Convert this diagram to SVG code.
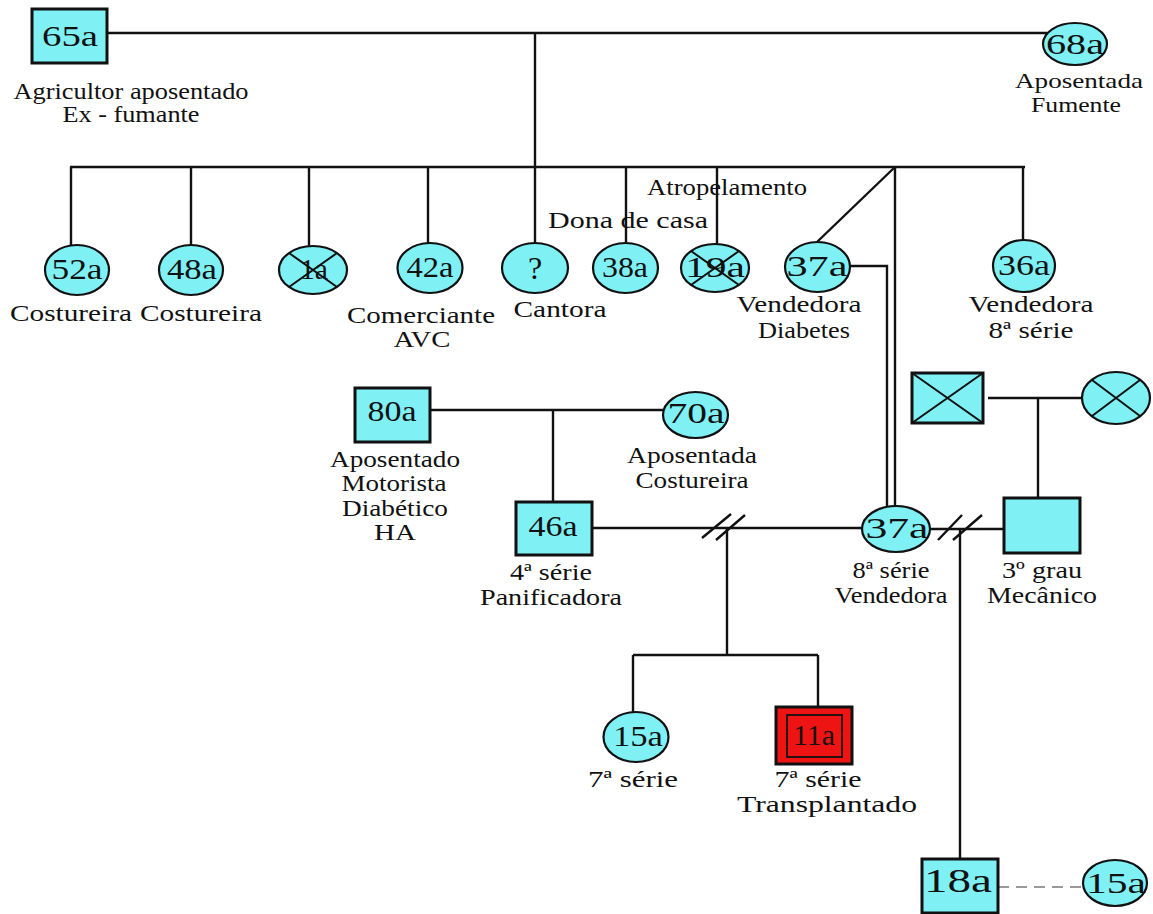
<svg xmlns="http://www.w3.org/2000/svg" width="1153" height="914" viewBox="0 0 1153 914">
<style>
.bg{fill:#ffffff}
.f{fill:#7ff0f4;stroke:#111;stroke-width:2.2}
.r{fill:#7ff0f4;stroke:#111;stroke-width:3}
.red{fill:#ee1414;stroke:#111;stroke-width:3}
.redin{fill:#ee1414;stroke:#111;stroke-width:1.8}
.x{stroke:#111;stroke-width:2;fill:none}
.c{stroke:#111;stroke-width:2.4;fill:none}
.d{stroke:#999;stroke-width:2;fill:none;stroke-dasharray:11 7}
text{font-family:"Liberation Serif", Tinos, "Times New Roman", serif;fill:#111;text-anchor:middle}
.n{font-size:30px}
.l{font-size:23px}
</style>
<rect class="bg" x="0" y="0" width="1153" height="914"/>
<g id="connectors">
<path class="c" d="M107,33 H1047"/>
<path class="c" d="M535,33 V167"/>
<path class="c" d="M70,167 H1025"/>
<path class="c" d="M71,167 V246 M191,167 V245 M309,167 V247 M428,167 V243 M535,167 V243 M626,167 V243 M717,167 V244 M1023,167 V240"/>
<path class="c" d="M895,167 L817,242"/>
<path class="c" d="M895,167 V507"/>
<path class="c" d="M850,266 H887 V507"/>
<path class="c" d="M430,410 H663"/>
<path class="c" d="M553,410 V502"/>
<path class="c" d="M592,528 H862"/>
<path class="c" d="M702,538 L731,514 M716,540 L745,515"/>
<path class="c" d="M727,528 V655"/>
<path class="c" d="M633,655 H818 M633,655 V712 M818,655 V707"/>
<path class="c" d="M988,398 H1082"/>
<path class="c" d="M1038,398 V498"/>
<path class="c" d="M930,529 H1004"/>
<path class="c" d="M938,540 L962,515 M953,540 L982,515"/>
<path class="c" d="M960,529 V859"/>
<path class="d" d="M998,887 H1083"/>
</g>
<g id="n65a"><rect class="r" x="32" y="9" width="75" height="54"/><text class="n" x="70" y="46" textLength="56" lengthAdjust="spacingAndGlyphs">65a</text>
<text class="l" x="131" y="99" textLength="235" lengthAdjust="spacingAndGlyphs">Agricultor aposentado</text>
<text class="l" x="131" y="122" textLength="137" lengthAdjust="spacingAndGlyphs">Ex - fumante</text></g>
<g id="n68a"><ellipse class="f" cx="1075" cy="44" rx="32" ry="21"/><text class="n" x="1075" y="54" textLength="58" lengthAdjust="spacingAndGlyphs">68a</text>
<text class="l" x="1079" y="88" style="font-size:22px" textLength="128" lengthAdjust="spacingAndGlyphs">Aposentada</text>
<text class="l" x="1076" y="112" style="font-size:22px" textLength="90" lengthAdjust="spacingAndGlyphs">Fumente</text></g>
<g id="n52a"><ellipse class="f" cx="77" cy="270" rx="32" ry="25"/><text class="n" x="77" y="279" textLength="51" lengthAdjust="spacingAndGlyphs">52a</text>
<text class="l" x="71" y="321" textLength="122" lengthAdjust="spacingAndGlyphs">Costureira</text></g>
<g id="n48a"><ellipse class="f" cx="191" cy="270" rx="32" ry="25"/><text class="n" x="192" y="279" textLength="50" lengthAdjust="spacingAndGlyphs">48a</text>
<text class="l" x="201" y="321" textLength="122" lengthAdjust="spacingAndGlyphs">Costureira</text></g>
<g id="n1a"><ellipse class="f" cx="313" cy="270" rx="34" ry="24"/><text class="n" x="314" y="279" textLength="28" lengthAdjust="spacingAndGlyphs">1a</text>
<path class="x" d="M289,253 L337,287 M289,287 L337,253"/></g>
<g id="n42a"><ellipse class="f" cx="430" cy="268" rx="32.5" ry="25"/><text class="n" x="430" y="277" textLength="47" lengthAdjust="spacingAndGlyphs">42a</text>
<text class="l" x="421" y="323" textLength="148" lengthAdjust="spacingAndGlyphs">Comerciante</text>
<text class="l" x="422" y="347" textLength="57" lengthAdjust="spacingAndGlyphs">AVC</text></g>
<g id="nq"><ellipse class="f" cx="535" cy="268" rx="33" ry="25"/><text class="n" x="535" y="279" style="font-size:32px">?</text>
<text class="l" x="560" y="317" textLength="93" lengthAdjust="spacingAndGlyphs">Cantora</text></g>
<g id="n38a"><ellipse class="f" cx="625.5" cy="268" rx="32.5" ry="25"/><text class="n" x="625" y="277" textLength="46" lengthAdjust="spacingAndGlyphs">38a</text>
<text class="l" x="628" y="228" textLength="160" lengthAdjust="spacingAndGlyphs">Dona de casa</text></g>
<g id="n19a"><ellipse class="f" cx="715" cy="268" rx="34" ry="24"/><text class="n" x="715" y="277" textLength="60" lengthAdjust="spacingAndGlyphs">19a</text>
<path class="x" d="M691,251 L739,285 M691,285 L739,251"/>
<text class="l" x="727" y="195" textLength="160" lengthAdjust="spacingAndGlyphs">Atropelamento</text></g>
<g id="n37a_top"><ellipse class="f" cx="817.5" cy="267" rx="32.5" ry="25"/><text class="n" x="817" y="276" textLength="61" lengthAdjust="spacingAndGlyphs">37a</text>
<text class="l" x="799" y="312" textLength="125" lengthAdjust="spacingAndGlyphs">Vendedora</text>
<text class="l" x="804" y="338" textLength="92" lengthAdjust="spacingAndGlyphs">Diabetes</text></g>
<g id="n36a"><ellipse class="f" cx="1024" cy="266" rx="31" ry="26"/><text class="n" x="1024" y="275" textLength="52" lengthAdjust="spacingAndGlyphs">36a</text>
<text class="l" x="1031" y="312" textLength="125" lengthAdjust="spacingAndGlyphs">Vendedora</text>
<text class="l" x="1031" y="338" textLength="85" lengthAdjust="spacingAndGlyphs">8ª série</text></g>
<g id="n80a"><rect class="r" x="355" y="388" width="75" height="54"/><text class="n" x="392" y="421" textLength="49" lengthAdjust="spacingAndGlyphs">80a</text>
<text class="l" x="395" y="467" textLength="130" lengthAdjust="spacingAndGlyphs">Aposentado</text>
<text class="l" x="394" y="491" textLength="105" lengthAdjust="spacingAndGlyphs">Motorista</text>
<text class="l" x="395" y="516" textLength="106" lengthAdjust="spacingAndGlyphs">Diabético</text>
<text class="l" x="395" y="540" textLength="42" lengthAdjust="spacingAndGlyphs">HA</text></g>
<g id="n70a"><ellipse class="f" cx="695.5" cy="415" rx="32.5" ry="23"/><text class="n" x="696" y="423" textLength="57" lengthAdjust="spacingAndGlyphs">70a</text>
<text class="l" x="692" y="463" textLength="130" lengthAdjust="spacingAndGlyphs">Aposentada</text>
<text class="l" x="692" y="488" textLength="113" lengthAdjust="spacingAndGlyphs">Costureira</text></g>
<g id="n46a"><rect class="r" x="516" y="502" width="76" height="53"/><text class="n" x="553" y="536" textLength="49" lengthAdjust="spacingAndGlyphs">46a</text>
<text class="l" x="551" y="580" textLength="82" lengthAdjust="spacingAndGlyphs">4ª série</text>
<text class="l" x="551" y="605" textLength="142" lengthAdjust="spacingAndGlyphs">Panificadora</text></g>
<g id="n37a_low"><ellipse class="f" cx="896" cy="529" rx="34" ry="23"/><text class="n" x="897" y="538" textLength="63" lengthAdjust="spacingAndGlyphs">37a</text>
<text class="l" x="891" y="578" textLength="77" lengthAdjust="spacingAndGlyphs">8ª série</text>
<text class="l" x="891" y="603" textLength="113" lengthAdjust="spacingAndGlyphs">Vendedora</text></g>
<g id="n_dead_m"><rect class="r" x="912" y="373" width="71" height="50"/><path class="x" d="M912,373 L983,423 M912,423 L983,373"/></g>
<g id="n_dead_f"><ellipse class="f" cx="1116" cy="398" rx="34" ry="26"/><path class="x" d="M1092,380 L1140,416 M1092,416 L1140,380"/></g>
<g id="n3grau"><rect class="r" x="1004" y="498" width="76" height="55"/>
<text class="l" x="1042" y="578" textLength="80" lengthAdjust="spacingAndGlyphs">3º grau</text>
<text class="l" x="1042" y="603" textLength="110" lengthAdjust="spacingAndGlyphs">Mecânico</text></g>
<g id="n15a"><ellipse class="f" cx="636" cy="737" rx="32.5" ry="25"/><text class="n" x="638" y="746" textLength="50" lengthAdjust="spacingAndGlyphs">15a</text>
<text class="l" x="633" y="787" textLength="90" lengthAdjust="spacingAndGlyphs">7ª série</text></g>
<g id="n11a"><rect class="red" x="776" y="707" width="76" height="57"/><rect class="redin" x="787" y="715" width="55" height="42"/><text class="n" x="814" y="745" textLength="42" lengthAdjust="spacingAndGlyphs">11a</text>
<text class="l" x="818" y="787" textLength="87" lengthAdjust="spacingAndGlyphs">7ª série</text>
<text class="l" x="827" y="812" textLength="180" lengthAdjust="spacingAndGlyphs">Transplantado</text></g>
<g id="n18a"><rect class="r" x="922" y="859" width="76" height="54"/><text class="n" x="958" y="892" style="font-size:34px" textLength="68" lengthAdjust="spacingAndGlyphs">18a</text></g>
<g id="n15a_r"><ellipse class="f" cx="1115" cy="883" rx="32" ry="23"/><text class="n" x="1116" y="893" textLength="60" lengthAdjust="spacingAndGlyphs">15a</text></g>
</svg>
